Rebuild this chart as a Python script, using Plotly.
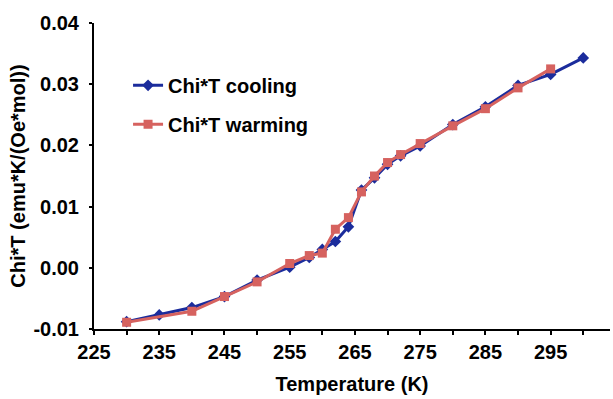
import plotly.graph_objects as go

# Data
temp_cooling = [230, 235, 240, 245, 250, 255, 258, 260, 262, 264, 266, 268, 270, 272, 275, 280, 285, 290, 295, 300]
chi_cooling = [-0.0088, -0.0077, -0.0065, -0.0047, -0.0020, 0.0001, 0.0017, 0.0030, 0.0043, 0.0067,
               0.0127, 0.0147, 0.0169, 0.0183, 0.0199, 0.0234, 0.0263, 0.0298, 0.0316, 0.0343]

temp_warming = [230, 240, 245, 250, 255, 258, 260, 262, 264, 266, 268, 270, 272, 275, 280, 285, 290, 295]
chi_warming = [-0.0089, -0.0071, -0.0047, -0.0023, 0.0007, 0.0020, 0.0024, 0.0063, 0.0082,
               0.0124, 0.0150, 0.0172, 0.0185, 0.0203, 0.0232, 0.0260, 0.0294, 0.0325]

x_tickvals = list(range(225, 301, 5))
x_ticktext = [str(v) if (v - 225) % 10 == 0 else "" for v in x_tickvals]
y_tickvals = [-0.01, 0.0, 0.01, 0.02, 0.03, 0.04]
y_ticktext = ["-0.01", "0.00", "0.01", "0.02", "0.03", "0.04"]

BLUE = "#1b2c9c"
RED = "#d6625f"
FONT = "Liberation Sans, Arial, Helvetica, sans-serif"
FS = 20

fig = go.Figure()
fig.add_trace(go.Scatter(
    x=temp_cooling, y=chi_cooling, mode="lines+markers", name="Chi*T cooling",
    legendgroup="c",
    line=dict(color=BLUE, width=3),
    marker=dict(symbol="diamond", size=9, color=BLUE),
))
fig.add_trace(go.Scatter(
    x=temp_warming, y=chi_warming, mode="lines+markers", name="Chi*T warming",
    legendgroup="w",
    line=dict(color=RED, width=3),
    marker=dict(symbol="square", size=9, color=RED),
))

fig.update_layout(
    width=613, height=399,
    margin=dict(l=94, r=3, t=23, b=70),
    paper_bgcolor="white", plot_bgcolor="white",
    font=dict(family=FONT, size=FS, color="black", weight="bold"),
    showlegend=True,
    legend=dict(
        x=0.066, y=0.86, xanchor="left", yanchor="top",
        bgcolor="rgba(0,0,0,0)",
        font=dict(family=FONT, size=FS, color="black", weight="bold"),
        traceorder="grouped", tracegroupgap=10, itemwidth=30,
    ),
    xaxis=dict(
        range=[225, 304.1],
        tickmode="array", tickvals=x_tickvals, ticktext=x_ticktext,
        ticks="outside", ticklen=4, tickwidth=2, tickcolor="black",
        showline=True, linecolor="black", linewidth=2,
        showgrid=False, zeroline=False,
        tickfont=dict(family=FONT, size=FS, color="black", weight="bold"),
        title=dict(text="Temperature (K)", standoff=15,
                   font=dict(family=FONT, size=FS, color="black", weight="bold")),
    ),
    yaxis=dict(
        range=[-0.01, 0.04],
        tickmode="array", tickvals=y_tickvals, ticktext=y_ticktext,
        ticks="outside", ticklen=3, tickwidth=2, tickcolor="black",
        showline=True, linecolor="black", linewidth=2,
        showgrid=False, zeroline=False,
        ticklabelstandoff=6,
        tickfont=dict(family=FONT, size=FS, color="black", weight="bold"),
        title=dict(text="Chi*T (emu*K/(Oe*mol))", standoff=2,
                   font=dict(family=FONT, size=FS, color="black", weight="bold")),
    ),
)

fig.write_html("out.html")
